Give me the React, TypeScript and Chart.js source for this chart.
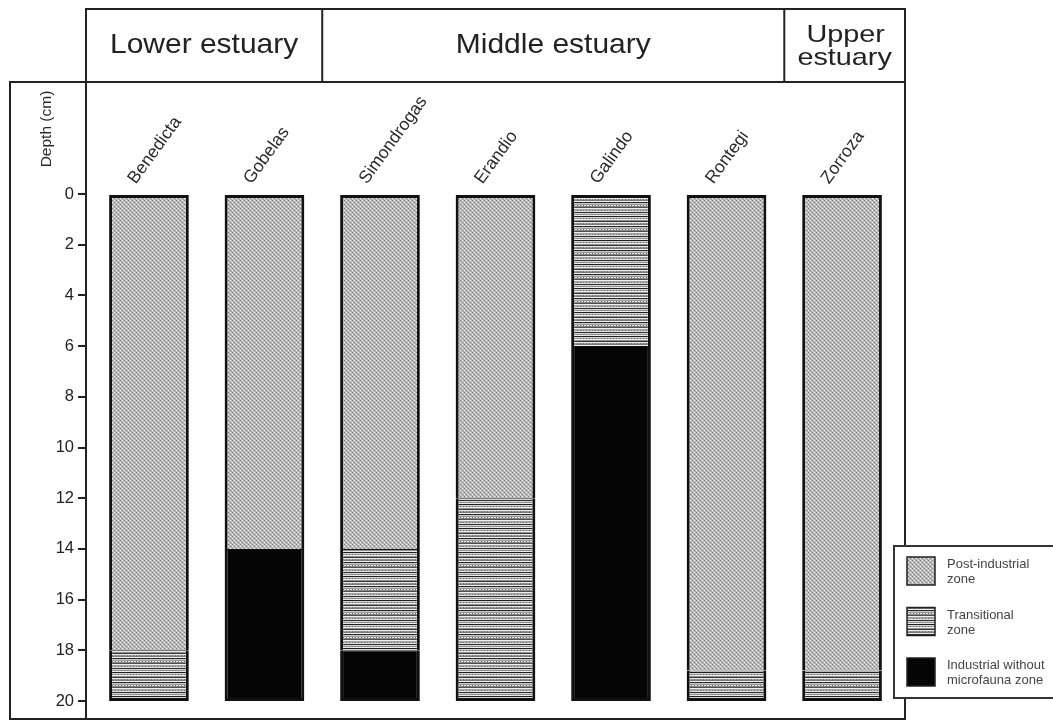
import { useEffect, useRef } from "react";
import { Chart, registerables } from "chart.js";

Chart.register(...registerables);

// Sampling stations along the estuary, upstream order
const stations = ["Benedicta", "Gobelas", "Simondrogas", "Erandio", "Galindo", "Rontegi", "Zorroza"];

// Thickness (cm) of each zone in the 20 cm cores, from the top down
const postIndustrial = [18, 14, 14, 12, 0, 18.8, 18.8];
const transitional = [2, 0, 4, 8, 6, 1.2, 1.2];
const industrial = [0, 6, 2, 0, 14, 0, 0];

// Depth axis
const depthTicks = [0, 2, 4, 6, 8, 10, 12, 14, 16, 18, 20];

// Estuary reaches shown in the header row (first and last station index of each)
const reachNames = [["Lower estuary"], ["Middle estuary"], ["Upper", "estuary"]];
const reachFirst = [0, 2, 6];
const reachLast = [1, 5, 6];

// Legend text, one entry per zone
const zoneLabels = [
  ["Post-industrial", "zone"],
  ["Transitional", "zone"],
  ["Industrial without", "microfauna zone"],
];

const FONT = "'Liberation Sans', Arial, Helvetica, sans-serif";
const INK = "#222";

function makeDotPattern(ctx: CanvasRenderingContext2D) {
  const c = document.createElement("canvas");
  c.width = 4;
  c.height = 4;
  const g = c.getContext("2d")!;
  g.fillStyle = "#bdbdbd";
  g.fillRect(0, 0, 4, 4);
  g.fillStyle = "#7e7e7e";
  g.fillRect(0, 0, 1, 1);
  g.fillRect(2, 2, 1, 1);
  g.fillStyle = "#f2f2f2";
  g.fillRect(2, 0, 1, 1);
  g.fillRect(0, 2, 1, 1);
  g.fillStyle = "#a6a6a6";
  g.fillRect(1, 1, 1, 1);
  g.fillRect(3, 3, 1, 1);
  return ctx.createPattern(c, "repeat")!;
}

function makeLinePattern(ctx: CanvasRenderingContext2D) {
  const rows = [
    "#1c1c1c", "#dadada", "#9a9a9a", "#f2f2f2", "#8c8c8c", "#3a3a3a", "#e6e6e6",
    "#a5a5a5", "#7a7a7a", "#efefef", "#262626", "#c8c8c8", "#999999", "#ebebeb",
    "#8a8a8a", "#4e4e4e", "#f0f0f0", "#a0a0a0", "#b5b5b5", "#dcdcdc", "#303030",
    "#d6d6d6", "#909090", "#e8e8e8",
  ];
  const c = document.createElement("canvas");
  c.width = 6;
  c.height = rows.length;
  const g = c.getContext("2d")!;
  rows.forEach((col, r) => {
    g.fillStyle = col;
    g.fillRect(0, r, 6, 1);
  });
  // a few dotted rows, as in the printed hatching
  g.fillStyle = "#6a6a6a";
  [2, 7, 13, 18].forEach((r) => {
    g.fillRect(1, r, 1, 1);
    g.fillRect(4, r, 1, 1);
  });
  return ctx.createPattern(c, "repeat")!;
}

const zones = [postIndustrial, transitional, industrial];

// Outer outline on the column edges, thin rule between zones
function segmentBorder(dsIndex: number, i: number) {
  const vals = zones.map((z) => z[i]);
  const first = vals.findIndex((v) => v > 0);
  let last = vals.length - 1;
  while (last > 0 && !(vals[last] > 0)) last--;
  return {
    left: 3,
    right: 3,
    top: dsIndex === first ? 3 : 1,
    bottom: dsIndex === last ? 3 : 0,
  };
}

function stretchedText(ctx: CanvasRenderingContext2D, text: string, cx: number, y: number, sx: number) {
  ctx.save();
  ctx.translate(cx, y);
  ctx.scale(sx, 1);
  ctx.fillText(text, 0, 0);
  ctx.restore();
}

const framePlugin = {
  id: "estuaryFrame",
  afterDraw(chart: any) {
    const { ctx, chartArea, scales } = chart;
    const x = scales.x;
    const left = chartArea.left;
    const right = chartArea.right;
    const headTop = 9;
    const headBottom = 82;
    const frameLeft = 10;
    const frameBottom = 719;

    ctx.save();
    ctx.strokeStyle = INK;
    ctx.lineWidth = 2;

    // header row
    ctx.strokeRect(left, headTop, right - left, headBottom - headTop);
    // outer frame and depth axis line
    ctx.strokeRect(frameLeft, headBottom, right - frameLeft, frameBottom - headBottom);
    ctx.beginPath();
    ctx.moveTo(left, headBottom);
    ctx.lineTo(left, frameBottom);
    ctx.stroke();

    ctx.fillStyle = INK;
    ctx.textAlign = "center";
    ctx.textBaseline = "alphabetic";
    reachNames.forEach((name, r) => {
      const a = r === 0 ? left : x.getPixelForValue(reachFirst[r] - 0.5);
      const b = r === reachNames.length - 1 ? right : x.getPixelForValue(reachLast[r] + 0.5);
      if (r < reachNames.length - 1) {
        ctx.beginPath();
        ctx.moveTo(b, headTop);
        ctx.lineTo(b, headBottom);
        ctx.stroke();
      }
      const cx = (a + b) / 2;
      if (name.length === 1) {
        ctx.font = `28px ${FONT}`;
        stretchedText(ctx, name[0], cx, 53, 1.07);
      } else {
        ctx.font = `24px ${FONT}`;
        stretchedText(ctx, name[0], cx + 1, 42, 1.2);
        stretchedText(ctx, name[1], cx, 65, 1.2);
      }
    });

    // depth axis title
    ctx.save();
    ctx.translate(47, 129);
    ctx.rotate(-Math.PI / 2);
    ctx.font = `15.5px ${FONT}`;
    ctx.fillStyle = "#2a2a2a";
    ctx.textBaseline = "middle";
    ctx.textAlign = "center";
    ctx.fillText("Depth (cm)", 0, 0);
    ctx.restore();

    // legend box
    const lx = 894;
    const ly = 546;
    ctx.fillStyle = "#fff";
    ctx.fillRect(lx, ly, 200, 152);
    ctx.strokeStyle = "#333";
    ctx.lineWidth = 2;
    ctx.strokeRect(lx, ly, 200, 152);
    chart.data.datasets.forEach((ds: any, k: number) => {
      const sy = 557 + k * 50.5;
      ctx.fillStyle = ds.backgroundColor;
      ctx.fillRect(907, sy, 28, 28);
      ctx.strokeStyle = INK;
      ctx.lineWidth = 1.5;
      ctx.strokeRect(907, sy, 28, 28);
      ctx.fillStyle = "#444";
      ctx.font = `13px ${FONT}`;
      ctx.textAlign = "left";
      ctx.textBaseline = "alphabetic";
      ctx.fillText(zoneLabels[k][0], 947, sy + 11);
      ctx.fillText(zoneLabels[k][1], 947, sy + 26);
    });
    ctx.restore();
  },
};

export default function App() {
  const canvasRef = useRef<HTMLCanvasElement | null>(null);

  useEffect(() => {
    const canvas = canvasRef.current!;
    const ctx = canvas.getContext("2d")!;
    const dots = makeDotPattern(ctx);
    const lines = makeLinePattern(ctx);
    Chart.defaults.font.family = FONT;

    const fills = [dots, lines, "#050505"];
    const names = ["Post-industrial zone", "Transitional zone", "Industrial without microfauna zone"];

    const chart = new Chart(canvas, {
      type: "bar",
      data: {
        datasets: zones.map((z, k) => ({
          label: names[k],
          data: z.map((v, i) => ({ x: i, y: v })),
          backgroundColor: fills[k] as any,
          borderColor: "#111",
          borderSkipped: false,
          borderWidth: (c: any) => segmentBorder(c.datasetIndex, c.dataIndex),
          categoryPercentage: 1,
          barPercentage: 0.69,
        })),
      },
      options: {
        responsive: false,
        animation: false,
        events: [],
        layout: { padding: { left: 0, top: 0, right: 148, bottom: 19 } },
        plugins: {
          legend: { display: false },
          tooltip: { enabled: false },
          title: { display: false },
        },
        scales: {
          x: {
            type: "linear",
            position: "top",
            stacked: true,
            offset: false,
            min: -0.545,
            max: 6.545,
            afterBuildTicks: (s: any) => {
              s.ticks = stations.map((_, i) => ({ value: i }));
            },
            afterFit: (s: any) => {
              s.height = 194;
            },
            grid: { display: false, drawTicks: false, offset: false },
            border: { display: false },
            ticks: {
              autoSkip: false,
              minRotation: 54,
              maxRotation: 54,
              padding: 6,
              color: "#2a2a2a",
              font: { size: 17.5, family: FONT },
              callback: (v: any) => stations[v] ?? "",
            },
          },
          y: {
            type: "linear",
            reverse: true,
            stacked: true,
            min: 0,
            max: 20,
            afterBuildTicks: (s: any) => {
              s.ticks = depthTicks.map((v) => ({ value: v }));
            },
            afterFit: (s: any) => {
              s.width = 86;
            },
            grid: {
              drawOnChartArea: false,
              drawTicks: true,
              tickLength: 8,
              color: INK,
              lineWidth: 2,
            },
            border: { display: false },
            ticks: {
              padding: 4,
              color: "#222",
              font: { size: 16.5, family: FONT },
            },
          },
        },
      },
      plugins: [framePlugin],
    });

    return () => chart.destroy();
  }, []);

  return (
    <div style={{ position: "fixed", left: 0, top: 0, width: 1053, height: 720, background: "#fff" }}>
      <canvas ref={canvasRef} width={1053} height={720} style={{ display: "block" }} />
    </div>
  );
}
